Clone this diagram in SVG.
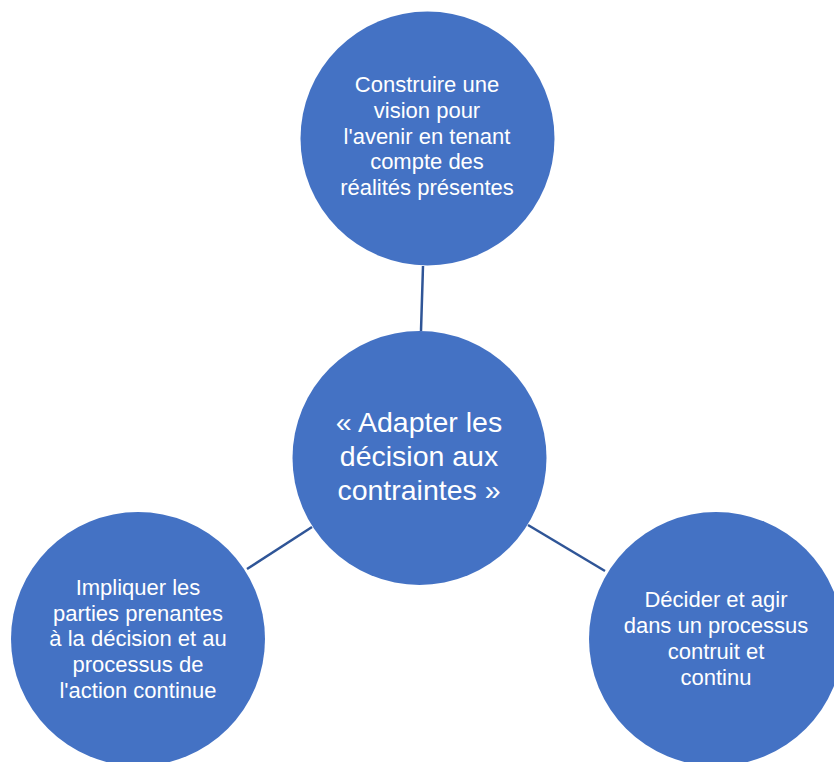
<svg xmlns="http://www.w3.org/2000/svg" width="834" height="762" viewBox="0 0 834 762">
<style>
.node{fill:#4472C4;}
.t{font-family:"Liberation Sans",Arial,sans-serif;font-size:22px;fill:#FFFFFF;text-anchor:middle;}
.tc{font-size:28.5px;}
.edge{stroke:#2F5597;stroke-width:2.5;fill:none;}
</style>
<rect width="834" height="762" fill="#FFFFFF"/>
<g id="connectors">
<line class="edge" x1="423" y1="266" x2="421" y2="331"/>
<line class="edge" x1="247" y1="569" x2="312" y2="527"/>
<line class="edge" x1="528" y1="525" x2="605" y2="571"/>
</g>
<g id="node-top">
<circle class="node" cx="427.5" cy="138.5" r="127"/>
<text class="t" x="427" y="92">Construire une</text>
<text class="t" x="427" y="118">vision pour</text>
<text class="t" x="427" y="143.5">l'avenir en tenant</text>
<text class="t" x="427" y="169">compte des</text>
<text class="t" x="427" y="195">réalités présentes</text>
</g>
<g id="node-center">
<circle class="node" cx="419.5" cy="458" r="127"/>
<text class="t tc" x="419" y="432">« Adapter les</text>
<text class="t tc" x="419" y="466">décision aux</text>
<text class="t tc" x="419" y="500">contraintes »</text>
</g>
<g id="node-left">
<circle class="node" cx="138" cy="639" r="127"/>
<text class="t" x="138" y="595">Impliquer les</text>
<text class="t" x="138" y="620.5">parties prenantes</text>
<text class="t" x="138" y="646">à la décision et au</text>
<text class="t" x="138" y="672">processus de</text>
<text class="t" x="138" y="698">l'action continue</text>
</g>
<g id="node-right">
<circle class="node" cx="716" cy="639" r="127"/>
<text class="t" x="716" y="607">Décider et agir</text>
<text class="t" x="716" y="633">dans un processus</text>
<text class="t" x="716" y="658.5">contruit et</text>
<text class="t" x="716" y="684.5">continu</text>
</g>
</svg>
